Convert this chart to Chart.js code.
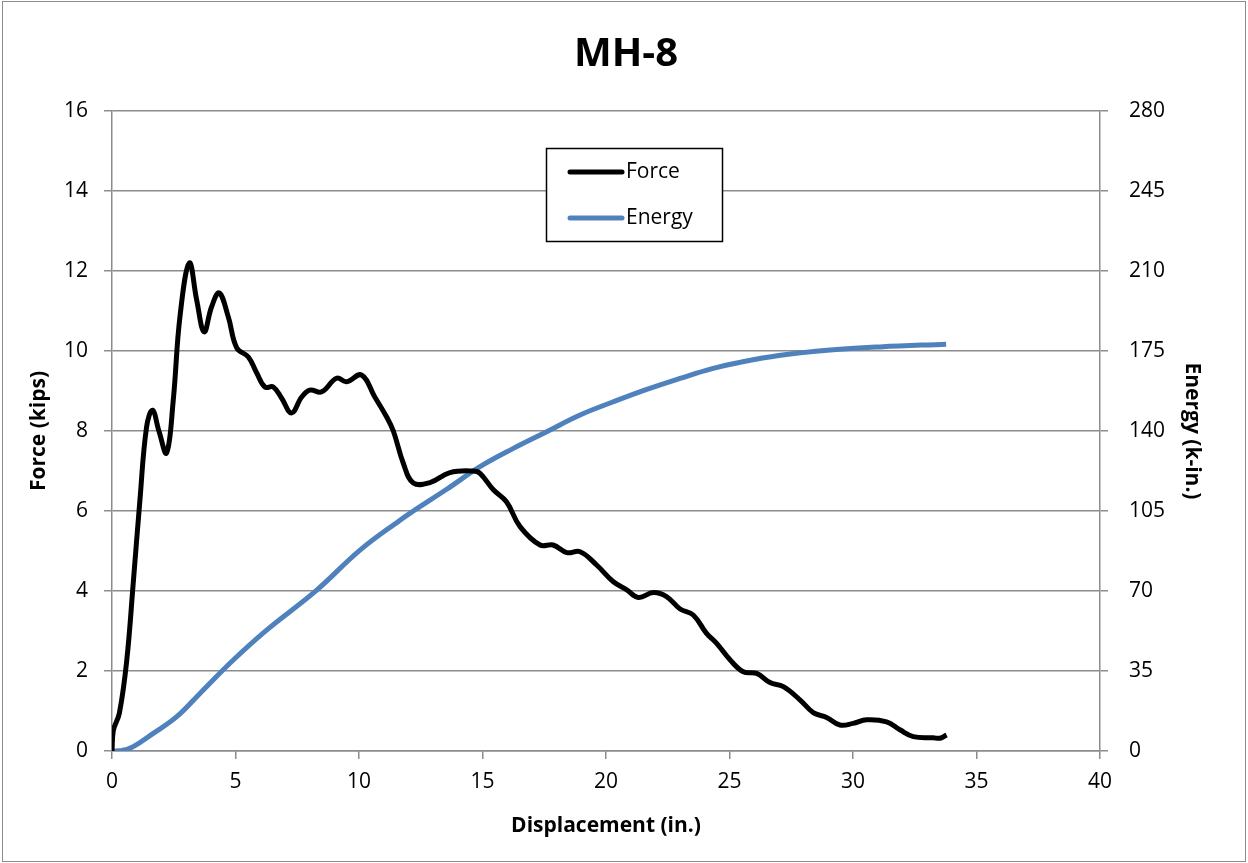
<!DOCTYPE html>
<html>
<head>
<meta charset="utf-8">
<title>MH-8</title>
<script src="https://cdn.jsdelivr.net/npm/chart.js@4"></script>
<style>
  html, body { margin: 0; padding: 0; background: #fff; }
  #wrap { width: 1248px; height: 863px; }
</style>
</head>
<body>
<div id="wrap"><canvas id="mh8Chart" width="1248" height="863"></canvas></div>
<script>
// force vs displacement (in., kips)
const forceDisp = [0, 0.05, 0.3, 0.6, 0.86, 1.13, 1.4, 1.64, 1.9, 2.21, 2.48, 2.75, 3.13, 3.43, 3.73, 4.03, 4.34, 4.71, 5.05, 5.52, 5.86, 6.19, 6.53, 6.87, 7.27, 7.68, 8.01, 8.49, 9.09, 9.5, 10.1, 10.64, 11.12, 11.39, 11.79, 12.2, 12.87, 13.68, 14.63, 14.9, 15.44, 15.97, 16.52, 17.33, 17.86, 18.41, 18.95, 19.62, 20.3, 20.84, 21.31, 21.92, 22.45, 23.0, 23.53, 24.07, 24.48, 25.02, 25.56, 26.1, 26.64, 27.18, 27.85, 28.39, 28.93, 29.47, 30.0, 30.55, 31.36, 31.9, 32.44, 33.25, 33.52, 33.79];
const forceKips = [0, 0.5, 0.95, 2.28, 4.2, 6.27, 8.1, 8.52, 8.0, 7.45, 8.77, 10.85, 12.2, 11.27, 10.48, 11.1, 11.45, 10.85, 10.08, 9.85, 9.45, 9.1, 9.1, 8.82, 8.45, 8.85, 9.02, 8.98, 9.32, 9.23, 9.4, 8.85, 8.35, 8.0, 7.2, 6.7, 6.71, 6.96, 7.0, 6.94, 6.53, 6.23, 5.61, 5.15, 5.15, 4.96, 4.98, 4.65, 4.23, 4.03, 3.84, 3.96, 3.86, 3.55, 3.4, 2.94, 2.69, 2.28, 1.98, 1.94, 1.71, 1.61, 1.28, 0.96, 0.84, 0.65, 0.69, 0.78, 0.73, 0.53, 0.36, 0.33, 0.32, 0.4];

// energy vs displacement (in., k-in.)
const energyDisp = [0, 0.4, 0.86, 1.67, 2.62, 3.56, 4.91, 6.26, 8.29, 10.04, 11.66, 12.2, 13.55, 14.9, 16.25, 17.6, 18.95, 20.3, 21.65, 23.0, 24.3, 25.4, 27.0, 29.07, 31.1, 33.77];
const energyKin = [0, 0.2, 1.9, 7.7, 15, 25.2, 39.8, 52.9, 70.4, 87.9, 101, 105, 114.5, 124.4, 132.4, 139.7, 147, 152.8, 158.2, 163, 167.3, 170, 173, 175.4, 176.8, 178];

const xTicks = [0, 5, 10, 15, 20, 25, 30, 35, 40];
const forceTicks = [0, 2, 4, 6, 8, 10, 12, 14, 16];
const energyTicks = [0, 35, 70, 105, 140, 175, 210, 245, 280];

const toPoints = (xs, ys) => xs.map((x, i) => ({ x: x, y: ys[i] }));

const gridGray = "#8c8c8c";
Chart.defaults.font.family = "'Open Sans', 'Liberation Sans', sans-serif";
Chart.defaults.color = "#000";

// title, outer frame and the boxed legend, drawn by hand like Excel does
const excelBits = {
  id: "excelBits",
  afterDraw(chart) {
    const ctx = chart.ctx;
    ctx.save();
    ctx.strokeStyle = "#8c8c8c";
    ctx.lineWidth = 1;
    ctx.strokeRect(2.5, 1.5, 1243, 860);

    ctx.fillStyle = "#000";
    ctx.font = "bold 40px 'Open Sans', 'Liberation Sans', sans-serif";
    ctx.textAlign = "center";
    ctx.textBaseline = "middle";
    ctx.fillText("MH-8", 626, 55);

    // legend box
    const bx = 546, by = 148, bw = 176, bh = 93;
    ctx.fillStyle = "#fff";
    ctx.fillRect(bx, by, bw, bh);
    ctx.strokeStyle = "#000";
    ctx.lineWidth = 1.5;
    ctx.strokeRect(bx + 0.5, by + 0.5, bw, bh);
    ctx.font = "21px 'Open Sans', 'Liberation Sans', sans-serif";
    ctx.textAlign = "left";
    chart.data.datasets.forEach((ds, i) => {
      const y = by + 24 + i * 46;
      ctx.strokeStyle = ds.borderColor;
      ctx.lineWidth = 5;
      ctx.lineCap = "round";
      ctx.beginPath();
      ctx.moveTo(570, y);
      ctx.lineTo(622, y);
      ctx.stroke();
      ctx.fillStyle = "#000";
      ctx.fillText(ds.label, 626, y);
    });
    ctx.restore();
  }
};

const ctx = document.getElementById("mh8Chart").getContext("2d");
const myChart = new Chart(ctx, {
  type: "line",
  data: {
    datasets: [
      {
        label: "Force",
        data: toPoints(forceDisp, forceKips),
        yAxisID: "y",
        borderColor: "#000000",
        borderWidth: 5,
        pointRadius: 0,
        tension: 0.4,
        fill: false,
      },
      {
        label: "Energy",
        data: toPoints(energyDisp, energyKin),
        yAxisID: "y2",
        borderColor: "#4f81bd",
        borderWidth: 5,
        pointRadius: 0,
        tension: 0.4,
        fill: false,
      },
    ],
  },
  options: {
    responsive: false,
    animation: false,
    layout: { padding: { top: 111, left: 0, right: 0, bottom: 0 } },
    plugins: {
      legend: { display: false },
      title: { display: false },
      tooltip: { enabled: false },
    },
    scales: {
      x: {
        type: "linear",
        min: 0,
        max: 40,
        afterBuildTicks: (s) => { s.ticks = xTicks.map((v) => ({ value: v })); },
        afterFit: (s) => { s.height = 112; },
        ticks: { font: { size: 21 }, padding: 10, maxRotation: 0 },
        grid: { drawOnChartArea: false, drawTicks: true, tickLength: 8, color: gridGray, lineWidth: 1.5 },
        border: { display: true, color: gridGray, width: 1.5 },
        title: {
          display: true,
          text: "Displacement (in.)",
          font: { size: 21, weight: "bold" },
          padding: { top: 0, bottom: 24 },
        },
      },
      y: {
        position: "left",
        min: 0,
        max: 16,
        afterBuildTicks: (s) => { s.ticks = forceTicks.map((v) => ({ value: v })); },
        afterFit: (s) => { s.width = 112; },
        ticks: { font: { size: 21 }, padding: 16 },
        grid: { drawOnChartArea: true, drawTicks: true, tickLength: 8, color: gridGray, lineWidth: 1.5 },
        border: { display: true, color: gridGray, width: 1.5 },
        title: {
          display: true,
          text: "Force (kips)",
          font: { size: 21, weight: "bold" },
          padding: { top: 26, bottom: 0 },
        },
      },
      y2: {
        position: "right",
        min: 0,
        max: 280,
        afterBuildTicks: (s) => { s.ticks = energyTicks.map((v) => ({ value: v })); },
        afterFit: (s) => { s.width = 148; },
        ticks: { font: { size: 21 }, padding: 21 },
        grid: { drawOnChartArea: false, drawTicks: true, tickLength: 8, color: gridGray, lineWidth: 1.5 },
        border: { display: true, color: gridGray, width: 1.5 },
        title: {
          display: true,
          text: "Energy (k-in.)",
          font: { size: 21, weight: "bold" },
          padding: { top: 43, bottom: 0 },
        },
      },
    },
  },
  plugins: [excelBits],
});
</script>
</body>
</html>
